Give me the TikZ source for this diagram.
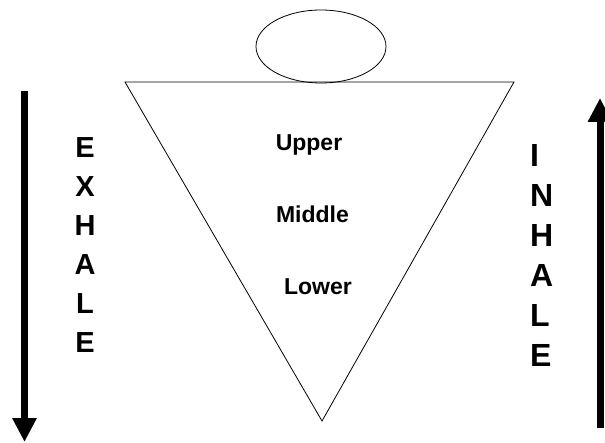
\documentclass[tikz,border=0pt]{standalone}
\usepackage{fontspec}
\setmainfont{Liberation Sans}
\usetikzlibrary{arrows.meta,shapes.geometric}
\begin{document}
\begin{tikzpicture}[x=1pt,y=-1pt,
  thinline/.style={draw=black,line width=0.8pt},
  bigarrow/.style={line width=7pt,-{Triangle[width=23pt,length=24pt]}},
  lettercol/.style={inner sep=0pt,font=\bfseries\fontsize{29}{39}\selectfont},
  levellabel/.style={inner sep=0pt,anchor=base,font=\bfseries\fontsize{23}{27}\selectfont}]
\useasboundingbox (0,0) rectangle (605,443);
% head
\node[ellipse,thinline,minimum width=130pt,minimum height=73pt,inner sep=0pt] (head) at (321,46.5) {};
% triangle
\coordinate (tl) at (125,82);
\coordinate (tr) at (514,82);
\coordinate (tb) at (322,421);
\draw[thinline,line join=miter] (tl) -- (tr) -- (tb) -- cycle;
% labels
\node[levellabel] (upper) at (309,151) {Upper};
\node[levellabel] (middle) at (312.5,223) {Middle};
\node[levellabel] (lower) at (318,295) {Lower};
% arrows
\coordinate (exA) at (24.5,91);
\coordinate (exB) at (24.5,442);
\draw[bigarrow] (exA) -- (exB);
\coordinate (inA) at (600,428);
\coordinate (inB) at (600,98);
\draw[bigarrow] (inA) -- (inB);
% words
\node[lettercol,align=center] (exhale) at (85,245) {E\\X\\H\\A\\L\\E};
\node[lettercol,align=left,anchor=west,font=\bfseries\fontsize{32}{40}\selectfont] (inhale) at (530,255) {I\\N\\H\\A\\L\\E};
\end{tikzpicture}
\end{document}
